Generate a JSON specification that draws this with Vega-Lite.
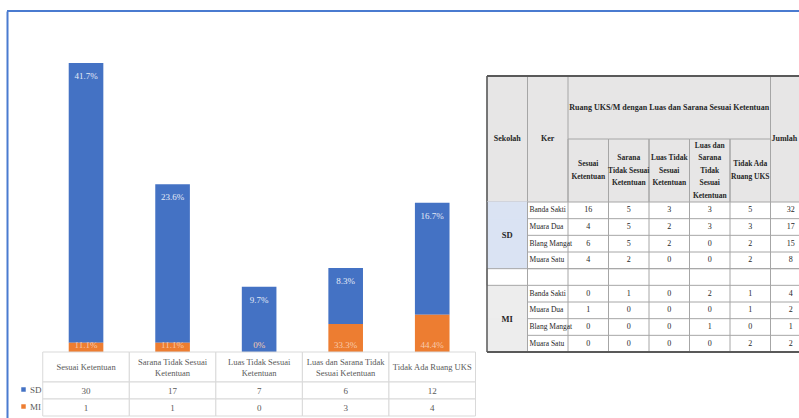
{
  "$schema": "https://vega.github.io/schema/vega-lite/v6.json",
  "width": 792,
  "height": 407,
  "autosize": {"type": "none"},
  "padding": {"left": 7, "top": 11, "right": 0, "bottom": 0},
  "background": "#ffffff",
  "config": {"view": {"stroke": null}, "font": "Liberation Serif"},
  "datasets": {
    "ringkas": [
      {"kategori": "Sesuai Ketentuan", "judul": "Sesuai Ketentuan", "sekolah": "SD", "jumlah": 30, "persen": "41.7%"},
      {"kategori": "Sesuai Ketentuan", "judul": "Sesuai Ketentuan", "sekolah": "MI", "jumlah": 1, "persen": "11.1%"},
      {"kategori": "Sarana Tidak Sesuai Ketentuan", "judul": "Sarana Tidak Sesuai\nKetentuan", "sekolah": "SD", "jumlah": 17, "persen": "23.6%"},
      {"kategori": "Sarana Tidak Sesuai Ketentuan", "judul": "Sarana Tidak Sesuai\nKetentuan", "sekolah": "MI", "jumlah": 1, "persen": "11.1%"},
      {"kategori": "Luas Tidak Sesuai Ketentuan", "judul": "Luas Tidak Sesuai\nKetentuan", "sekolah": "SD", "jumlah": 7, "persen": "9.7%"},
      {"kategori": "Luas Tidak Sesuai Ketentuan", "judul": "Luas Tidak Sesuai\nKetentuan", "sekolah": "MI", "jumlah": 0, "persen": "0%"},
      {"kategori": "Luas dan Sarana Tidak Sesuai Ketentuan", "judul": "Luas dan Sarana Tidak\nSesuai Ketentuan", "sekolah": "SD", "jumlah": 6, "persen": "8.3%"},
      {"kategori": "Luas dan Sarana Tidak Sesuai Ketentuan", "judul": "Luas dan Sarana Tidak\nSesuai Ketentuan", "sekolah": "MI", "jumlah": 3, "persen": "33.3%"},
      {"kategori": "Tidak Ada Ruang UKS", "judul": "Tidak Ada Ruang UKS", "sekolah": "SD", "jumlah": 12, "persen": "16.7%"},
      {"kategori": "Tidak Ada Ruang UKS", "judul": "Tidak Ada Ruang UKS", "sekolah": "MI", "jumlah": 4, "persen": "44.4%"}
    ],
    "tabel": [
      {"sekolah": "SD", "ker": "Banda Sakti", "baris": "SD Banda Sakti", "Sesuai Ketentuan": 16, "Sarana Tidak Sesuai Ketentuan": 5, "Luas Tidak Sesuai Ketentuan": 3, "Luas dan Sarana Tidak Sesuai Ketentuan": 3, "Tidak Ada Ruang UKS": 5, "Jumlah": 32},
      {"sekolah": "SD", "ker": "Muara Dua", "baris": "SD Muara Dua", "Sesuai Ketentuan": 4, "Sarana Tidak Sesuai Ketentuan": 5, "Luas Tidak Sesuai Ketentuan": 2, "Luas dan Sarana Tidak Sesuai Ketentuan": 3, "Tidak Ada Ruang UKS": 3, "Jumlah": 17},
      {"sekolah": "SD", "ker": "Blang Mangat", "baris": "SD Blang Mangat", "Sesuai Ketentuan": 6, "Sarana Tidak Sesuai Ketentuan": 5, "Luas Tidak Sesuai Ketentuan": 2, "Luas dan Sarana Tidak Sesuai Ketentuan": 0, "Tidak Ada Ruang UKS": 2, "Jumlah": 15},
      {"sekolah": "SD", "ker": "Muara Satu", "baris": "SD Muara Satu", "Sesuai Ketentuan": 4, "Sarana Tidak Sesuai Ketentuan": 2, "Luas Tidak Sesuai Ketentuan": 0, "Luas dan Sarana Tidak Sesuai Ketentuan": 0, "Tidak Ada Ruang UKS": 2, "Jumlah": 8},
      {"sekolah": "MI", "ker": "Banda Sakti", "baris": "MI Banda Sakti", "Sesuai Ketentuan": 0, "Sarana Tidak Sesuai Ketentuan": 1, "Luas Tidak Sesuai Ketentuan": 0, "Luas dan Sarana Tidak Sesuai Ketentuan": 2, "Tidak Ada Ruang UKS": 1, "Jumlah": 4},
      {"sekolah": "MI", "ker": "Muara Dua", "baris": "MI Muara Dua", "Sesuai Ketentuan": 1, "Sarana Tidak Sesuai Ketentuan": 0, "Luas Tidak Sesuai Ketentuan": 0, "Luas dan Sarana Tidak Sesuai Ketentuan": 0, "Tidak Ada Ruang UKS": 1, "Jumlah": 2},
      {"sekolah": "MI", "ker": "Blang Mangat", "baris": "MI Blang Mangat", "Sesuai Ketentuan": 0, "Sarana Tidak Sesuai Ketentuan": 0, "Luas Tidak Sesuai Ketentuan": 0, "Luas dan Sarana Tidak Sesuai Ketentuan": 1, "Tidak Ada Ruang UKS": 0, "Jumlah": 1},
      {"sekolah": "MI", "ker": "Muara Satu", "baris": "MI Muara Satu", "Sesuai Ketentuan": 0, "Sarana Tidak Sesuai Ketentuan": 0, "Luas Tidak Sesuai Ketentuan": 0, "Luas dan Sarana Tidak Sesuai Ketentuan": 0, "Tidak Ada Ruang UKS": 2, "Jumlah": 2}
    ],
    "kolom": [
      {"kolom": "Sekolah", "judul": "Sekolah", "tingkat": "utama"},
      {"kolom": "Ker", "judul": "Ker", "tingkat": "utama"},
      {"kolom": "Sesuai Ketentuan", "judul": "Sesuai\nKetentuan", "tingkat": "sub"},
      {"kolom": "Sarana Tidak Sesuai Ketentuan", "judul": "Sarana\nTidak Sesuai\nKetentuan", "tingkat": "sub"},
      {"kolom": "Luas Tidak Sesuai Ketentuan", "judul": "Luas Tidak\nSesuai\nKetentuan", "tingkat": "sub"},
      {"kolom": "Luas dan Sarana Tidak Sesuai Ketentuan", "judul": "Luas dan\nSarana\nTidak\nSesuai\nKetentuan", "tingkat": "sub"},
      {"kolom": "Tidak Ada Ruang UKS", "judul": "Tidak Ada\nRuang UKS", "tingkat": "sub"},
      {"kolom": "Jumlah", "judul": "Jumlah", "tingkat": "utama"}
    ]
  },
  "layer": [
    {
      "data": {"name": "ringkas"},
      "transform": [{"filter": "datum.kategori === 'Sesuai Ketentuan' && datum.sekolah === 'SD'"}],
      "mark": {"type": "rule", "stroke": "#4a7bd0", "strokeWidth": 2},
      "encoding": {
        "y": {"datum": 1, "type": "quantitative", "scale": {"domain": [0, 1], "nice": false}, "axis": {"orient": "left", "title": null, "labels": false, "ticks": false, "grid": false, "domainColor": "#4a7bd0", "domainWidth": 2}}
      }
    },
    {
      "data": {"name": "ringkas"},
      "encoding": {
        "x": {
          "field": "kategori", "type": "nominal",
          "scale": {"type": "band", "domain": ["Sesuai Ketentuan", "Sarana Tidak Sesuai Ketentuan", "Luas Tidak Sesuai Ketentuan", "Luas dan Sarana Tidak Sesuai Ketentuan", "Tidak Ada Ruang UKS"], "range": [35.75, 468.5], "paddingInner": 0, "paddingOuter": 0},
          "axis": null
        }
      },
      "layer": [
        {
          "encoding": {
            "y": {"field": "jumlah", "type": "quantitative", "scale": {"domain": [-7.08, 36.58], "nice": false, "zero": false}, "axis": null}
          },
          "layer": [
            {
              "mark": {"type": "bar", "width": {"band": 0.4}},
              "encoding": {
                "color": {"field": "sekolah", "type": "nominal", "scale": {"domain": ["SD", "MI"], "range": ["#4472C4", "#ED7D31"]},
                  "legend": {"title": null, "orient": "none", "legendX": 12, "legendY": 374, "symbolType": "square", "symbolSize": 20, "symbolStrokeWidth": 0, "labelFontSize": 9, "labelColor": "#595959", "labelFont": "Liberation Serif", "rowPadding": 7, "labelOffset": 2}},
                "order": {"field": "sekolah", "sort": "ascending"}
              }
            },
            {
              "mark": {"type": "text", "baseline": "middle", "dy": 13, "fontSize": 9, "color": "#e4ebf7"},
              "encoding": {
                "y": {"field": "jumlah", "type": "quantitative", "stack": "zero"},
                "detail": {"field": "sekolah"},
                "order": {"field": "sekolah", "sort": "ascending"},
                "text": {"condition": {"test": "datum.sekolah === 'SD'", "field": "persen"}, "value": ""}
              }
            },
            {
              "transform": [{"filter": "datum.sekolah === 'MI'"}],
              "mark": {"type": "text", "baseline": "middle", "dy": -7, "fontSize": 9, "color": "#f8cbad"},
              "encoding": {
                "y": {"datum": 0, "type": "quantitative"},
                "text": {"field": "persen"}
              }
            }
          ]
        },
        {
          "transform": [{"filter": "datum.sekolah === 'SD'"}],
          "encoding": {
            "y": {"datum": "Kategori", "type": "nominal", "scale": {"type": "band", "domain": ["Kategori"], "range": [341, 371], "paddingInner": 0, "paddingOuter": 0}, "axis": null}
          },
          "layer": [
            {"mark": {"type": "rect", "fill": "#ffffff", "stroke": "#d9d9d9", "strokeWidth": 1}},
            {
              "transform": [{"filter": "indexof(datum.judul, '\\n') < 0"}],
              "mark": {"type": "text", "baseline": "middle", "fontSize": 8.5, "color": "#595959"},
              "encoding": {"text": {"field": "judul"}}
            },
            {
              "transform": [{"filter": "indexof(datum.judul, '\\n') >= 0"}],
              "mark": {"type": "text", "baseline": "middle", "lineBreak": "\n", "lineHeight": 11, "dy": -5.5, "fontSize": 8.5, "color": "#595959"},
              "encoding": {"text": {"field": "judul"}}
            }
          ]
        },
        {
          "encoding": {
            "y": {"field": "sekolah", "type": "nominal", "scale": {"type": "band", "domain": ["SD", "MI"], "range": [371, 405], "paddingInner": 0, "paddingOuter": 0}, "axis": null}
          },
          "layer": [
            {"mark": {"type": "rect", "fill": "#ffffff", "stroke": "#d9d9d9", "strokeWidth": 1}},
            {"mark": {"type": "text", "baseline": "middle", "fontSize": 9, "color": "#595959"}, "encoding": {"text": {"field": "jumlah", "type": "quantitative"}}}
          ]
        }
      ],
      "resolve": {"scale": {"y": "independent"}, "axis": {"y": "independent"}}
    },
    {
      "layer": [
        {
          "data": {"name": "kolom"},
          "layer": [
            {
              "transform": [{"filter": "datum.kolom === 'Sekolah'"}],
              "mark": {"type": "rect", "fill": "#e7e6e6", "strokeWidth": 0},
              "encoding": {
                "x": {"field": "kolom", "type": "nominal", "bandPosition": 0, "scale": {"type": "band", "domain": ["Sekolah", "Ker", "Sesuai Ketentuan", "Sarana Tidak Sesuai Ketentuan", "Luas Tidak Sesuai Ketentuan", "Luas dan Sarana Tidak Sesuai Ketentuan", "Tidak Ada Ruang UKS", "Jumlah"], "range": [480, 804], "paddingInner": 0, "paddingOuter": 0}, "axis": null},
                "x2": {"datum": "Jumlah", "bandPosition": 1},
                "y": {"datum": "h1", "type": "nominal", "bandPosition": 0, "scale": {"type": "band", "domain": ["h1", "h2"], "range": [65, 191], "paddingInner": 0, "paddingOuter": 0}, "axis": null},
                "y2": {"datum": "h2", "bandPosition": 1}
              }
            },
            {
              "transform": [{"filter": "datum.tingkat === 'utama'"}],
              "mark": {"type": "rect", "fill": "transparent", "stroke": "#a6a6a6", "strokeWidth": 1},
              "encoding": {
                "x": {"field": "kolom", "type": "nominal", "axis": null},
                "y": {"datum": "h1", "type": "nominal", "bandPosition": 0, "axis": null},
                "y2": {"datum": "h2", "bandPosition": 1}
              }
            },
            {
              "transform": [{"filter": "datum.tingkat === 'sub'"}],
              "mark": {"type": "rect", "fill": "transparent", "stroke": "#a6a6a6", "strokeWidth": 1},
              "encoding": {
                "x": {"field": "kolom", "type": "nominal", "axis": null},
                "y": {"datum": "h2", "type": "nominal", "axis": null}
              }
            },
            {
              "transform": [{"filter": "datum.tingkat === 'utama' && datum.kolom !== 'Jumlah'"}],
              "mark": {"type": "text", "fontSize": 8, "fontWeight": "bold", "color": "#262626", "baseline": "middle"},
              "encoding": {
                "x": {"field": "kolom", "type": "nominal", "axis": null},
                "y": {"datum": "h1", "type": "nominal", "bandPosition": 1, "axis": null},
                "text": {"field": "judul"}
              }
            },
            {
              "transform": [{"filter": "datum.kolom === 'Jumlah'"}],
              "mark": {"type": "text", "fontSize": 8, "fontWeight": "bold", "color": "#262626", "baseline": "middle", "align": "left", "dx": 1},
              "encoding": {
                "x": {"field": "kolom", "type": "nominal", "bandPosition": 0, "axis": null},
                "y": {"datum": "h1", "type": "nominal", "bandPosition": 1, "axis": null},
                "text": {"field": "judul"}
              }
            },
            {
              "transform": [{"filter": "datum.tingkat === 'sub' && length(split(datum.judul, '\\n')) === 2"}],
              "mark": {"type": "text", "fontSize": 7.5, "fontWeight": "bold", "color": "#262626", "baseline": "middle", "lineBreak": "\n", "lineHeight": 12.5, "dy": -6.25},
              "encoding": {
                "x": {"field": "kolom", "type": "nominal", "axis": null},
                "y": {"datum": "h2", "type": "nominal", "axis": null},
                "text": {"field": "judul"}
              }
            },
            {
              "transform": [{"filter": "datum.tingkat === 'sub' && length(split(datum.judul, '\\n')) === 3"}],
              "mark": {"type": "text", "fontSize": 7.5, "fontWeight": "bold", "color": "#262626", "baseline": "middle", "lineBreak": "\n", "lineHeight": 12.5, "dy": -12.5},
              "encoding": {
                "x": {"field": "kolom", "type": "nominal", "axis": null},
                "y": {"datum": "h2", "type": "nominal", "axis": null},
                "text": {"field": "judul"}
              }
            },
            {
              "transform": [{"filter": "datum.tingkat === 'sub' && length(split(datum.judul, '\\n')) === 5"}],
              "mark": {"type": "text", "fontSize": 7.5, "fontWeight": "bold", "color": "#262626", "baseline": "middle", "lineBreak": "\n", "lineHeight": 12.5, "dy": -25},
              "encoding": {
                "x": {"field": "kolom", "type": "nominal", "axis": null},
                "y": {"datum": "h2", "type": "nominal", "axis": null},
                "text": {"field": "judul"}
              }
            },
            {
              "transform": [{"filter": "datum.kolom === 'Luas Tidak Sesuai Ketentuan'"}],
              "mark": {"type": "text", "fontSize": 8, "fontWeight": "bold", "color": "#262626", "baseline": "middle", "text": "Ruang UKS/M dengan Luas dan Sarana Sesuai Ketentuan"},
              "encoding": {
                "x": {"field": "kolom", "type": "nominal", "axis": null},
                "y": {"datum": "h1", "type": "nominal", "axis": null}
              }
            },
            {
              "transform": [{"filter": "datum.kolom === 'Sekolah'"}],
              "mark": {"type": "rule", "stroke": "#595959", "strokeWidth": 2},
              "encoding": {
                "x": {"field": "kolom", "type": "nominal", "bandPosition": 0, "axis": null},
                "x2": {"datum": "Jumlah", "bandPosition": 1},
                "y": {"datum": "h1", "type": "nominal", "bandPosition": 0, "axis": null}
              }
            },
            {
              "transform": [{"filter": "datum.kolom === 'Sekolah'"}],
              "mark": {"type": "rule", "stroke": "#595959", "strokeWidth": 1.5},
              "encoding": {
                "x": {"field": "kolom", "type": "nominal", "bandPosition": 0, "axis": null},
                "y": {"datum": "h1", "type": "nominal", "bandPosition": 0, "axis": null},
                "y2": {"datum": "h2", "bandPosition": 1}
              }
            }
          ]
        },
        {
          "layer": [
            {
              "data": {"name": "tabel"},
              "mark": {"type": "rect", "strokeWidth": 1},
              "encoding": {
                "x": {"datum": "Sekolah", "type": "nominal", "scale": {"type": "band", "domain": ["Sekolah", "Ker", "Sesuai Ketentuan", "Sarana Tidak Sesuai Ketentuan", "Luas Tidak Sesuai Ketentuan", "Luas dan Sarana Tidak Sesuai Ketentuan", "Tidak Ada Ruang UKS", "Jumlah"], "range": [480, 804], "paddingInner": 0, "paddingOuter": 0}, "axis": null},
                "y": {"field": "baris", "type": "nominal", "scale": {"type": "band", "domain": ["SD Banda Sakti", "SD Muara Dua", "SD Blang Mangat", "SD Muara Satu", "kosong", "MI Banda Sakti", "MI Muara Dua", "MI Blang Mangat", "MI Muara Satu"], "range": [191, 341], "paddingInner": 0, "paddingOuter": 0}, "axis": null},
                "fill": {"condition": {"test": "datum.sekolah === 'SD'", "value": "#dae3f3"}, "value": "#ededed"},
                "stroke": {"condition": {"test": "datum.sekolah === 'SD'", "value": "#dae3f3"}, "value": "#ededed"}
              }
            },
            {
              "data": {"values": [{"baris": "kosong"}]},
              "mark": {"type": "rect", "fill": "#ffffff", "stroke": "#a6a6a6", "strokeWidth": 1},
              "encoding": {
                "x": {"datum": "Sekolah", "type": "nominal", "bandPosition": 0, "axis": null},
                "x2": {"datum": "Jumlah", "bandPosition": 1},
                "y": {"field": "baris", "type": "nominal", "axis": null}
              }
            },
            {
              "data": {"name": "tabel"},
              "mark": {"type": "rule", "stroke": "#a6a6a6", "strokeWidth": 1},
              "encoding": {
                "x": {"datum": "Ker", "type": "nominal", "bandPosition": 0, "axis": null},
                "x2": {"datum": "Jumlah", "bandPosition": 1},
                "y": {"field": "baris", "type": "nominal", "bandPosition": 1, "axis": null}
              }
            },
            {
              "data": {"name": "kolom"},
              "transform": [{"filter": "datum.kolom !== 'Sekolah'"}],
              "mark": {"type": "rule", "stroke": "#a6a6a6", "strokeWidth": 1},
              "encoding": {
                "x": {"field": "kolom", "type": "nominal", "bandPosition": 0, "axis": null},
                "y": {"datum": "SD Banda Sakti", "type": "nominal", "bandPosition": 0, "axis": null},
                "y2": {"datum": "MI Muara Satu", "bandPosition": 1}
              }
            },
            {
              "data": {"name": "tabel"},
              "transform": [{"filter": "datum.ker === 'Blang Mangat'"}],
              "mark": {"type": "text", "fontSize": 8.5, "fontWeight": "bold", "color": "#262626", "baseline": "middle"},
              "encoding": {
                "x": {"datum": "Sekolah", "type": "nominal", "axis": null},
                "y": {"field": "baris", "type": "nominal", "bandPosition": 0, "axis": null},
                "text": {"field": "sekolah"}
              }
            },
            {
              "data": {"name": "tabel"},
              "mark": {"type": "text", "fontSize": 7.5, "color": "#262626", "baseline": "middle", "align": "left", "dx": 2},
              "encoding": {
                "x": {"datum": "Ker", "type": "nominal", "bandPosition": 0, "axis": null},
                "y": {"field": "baris", "type": "nominal", "axis": null},
                "text": {"field": "ker"}
              }
            },
            {
              "data": {"name": "tabel"},
              "transform": [{"fold": ["Sesuai Ketentuan", "Sarana Tidak Sesuai Ketentuan", "Luas Tidak Sesuai Ketentuan", "Luas dan Sarana Tidak Sesuai Ketentuan", "Tidak Ada Ruang UKS", "Jumlah"], "as": ["kolom", "nilai"]}],
              "mark": {"type": "text", "fontSize": 8, "color": "#262626", "baseline": "middle"},
              "encoding": {
                "x": {"field": "kolom", "type": "nominal", "axis": null},
                "y": {"field": "baris", "type": "nominal", "axis": null},
                "text": {"field": "nilai", "type": "quantitative"}
              }
            },
            {
              "data": {"name": "kolom"},
              "transform": [{"filter": "datum.kolom === 'Sekolah'"}],
              "mark": {"type": "rule", "stroke": "#595959", "strokeWidth": 1.5},
              "encoding": {
                "x": {"field": "kolom", "type": "nominal", "bandPosition": 0, "axis": null},
                "y": {"datum": "SD Banda Sakti", "type": "nominal", "bandPosition": 0, "axis": null},
                "y2": {"datum": "MI Muara Satu", "bandPosition": 1}
              }
            },
            {
              "data": {"name": "kolom"},
              "transform": [{"filter": "datum.kolom === 'Sekolah'"}],
              "mark": {"type": "rule", "stroke": "#595959", "strokeWidth": 2},
              "encoding": {
                "x": {"field": "kolom", "type": "nominal", "bandPosition": 0, "axis": null},
                "x2": {"datum": "Jumlah", "bandPosition": 1},
                "y": {"datum": "MI Muara Satu", "type": "nominal", "bandPosition": 1, "axis": null}
              }
            }
          ]
        }
      ],
      "resolve": {"scale": {"y": "independent"}, "axis": {"y": "independent"}}
    }
  ],
  "resolve": {"scale": {"x": "independent", "y": "independent"}, "axis": {"x": "independent", "y": "independent"}}
}
